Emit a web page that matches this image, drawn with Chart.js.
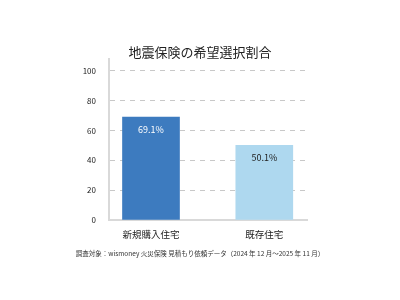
<!DOCTYPE html>
<html>
<head>
<meta charset="utf-8">
<script src="https://cdn.jsdelivr.net/npm/chart.js@4"></script>
<style>
html,body{margin:0;padding:0;background:#fff;}
#wrap{width:400px;height:300px;}
</style>
</head>
<body>
<div id="wrap"><canvas id="c" width="400" height="300"></canvas></div>
<script>
const titleText = '地震保険の希望選択割合';
const footnoteText = '調査対象：wismoney 火災保険 見積もり依頼データ（2024 年 12 月～2025 年 11 月）';
const categories = ['新規購入住宅', '既存住宅'];
const values = [69.1, 50.1];
const yTicks = [0, 20, 40, 60, 80, 100];
const barColors = ['#3D7BBF', '#AED8EF'];
const labelColors = ['#ffffff', '#222222'];

const FONT = '"Noto Sans CJK JP", "Noto Sans", sans-serif';

const dataLabels = {
  id: 'dataLabels',
  afterDatasetsDraw(chart) {
    const ctx = chart.ctx;
    const meta = chart.getDatasetMeta(0);
    ctx.save();
    ctx.font = '9px ' + FONT;
    ctx.textAlign = 'center';
    ctx.textBaseline = 'middle';
    meta.data.forEach((bar, i) => {
      ctx.fillStyle = labelColors[i];
      ctx.fillText(values[i].toFixed(1) + '%', bar.x, bar.y + 12.5);
    });
    ctx.restore();
  }
};

new Chart(document.getElementById('c'), {
  type: 'bar',
  data: {
    datasets: [{
      data: categories.map((c, i) => ({x: i, y: values[i]})),
      backgroundColor: barColors,
      borderWidth: 0,
      barThickness: 57
    }]
  },
  options: {
    responsive: false,
    animation: false,
    layout: {padding: 0},
    plugins: {
      legend: {display: false},
      tooltip: {enabled: false},
      title: {
        display: true,
        text: titleText,
        color: '#222',
        font: {family: FONT, size: 13, weight: 'normal', lineHeight: 1},
        padding: {top: 46, bottom: 0}
      },
      subtitle: {
        display: true,
        text: footnoteText,
        position: 'bottom',
        color: '#333',
        font: {family: FONT, size: 6.5, weight: 'normal', lineHeight: 1.2},
        padding: {top: 1.5, bottom: 42.7}
      }
    },
    scales: {
      x: {
        type: 'linear',
        offset: false,
        min: -0.3707,
        max: 1.3769,
        afterBuildTicks: s => { s.ticks = categories.map((c, i) => ({value: i})); },
        afterFit: s => { s.height = 28; },
        grid: {display: false, drawTicks: false, offset: false},
        border: {display: true, color: '#d9d9d9', width: 2},
        ticks: {
          padding: 9,
          color: '#222',
          font: {family: FONT, size: 9.5},
          maxRotation: 0,
          autoSkip: false,
          callback: v => categories[v]
        }
      },
      y: {
        min: 0,
        max: 108,
        afterBuildTicks: s => { s.ticks = yTicks.map(v => ({value: v})); },
        afterFit: s => { s.width = 109; },
        grid: {
          drawTicks: false,
          color: c => (c.tick && c.tick.value === 0) ? 'rgba(0,0,0,0)' : '#c8c8c8',
          lineWidth: 1
        },
        border: {display: true, color: '#d9d9d9', width: 2, dash: [5, 5]},
        ticks: {
          padding: 13,
          color: '#222',
          font: {family: FONT, size: 8}
        }
      },
      y2: {
        position: 'right',
        display: true,
        afterFit: s => { s.width = 93; },
        grid: {display: false, drawTicks: false},
        border: {display: false},
        ticks: {display: false}
      }
    }
  },
  plugins: [dataLabels]
});
</script>
</body>
</html>
